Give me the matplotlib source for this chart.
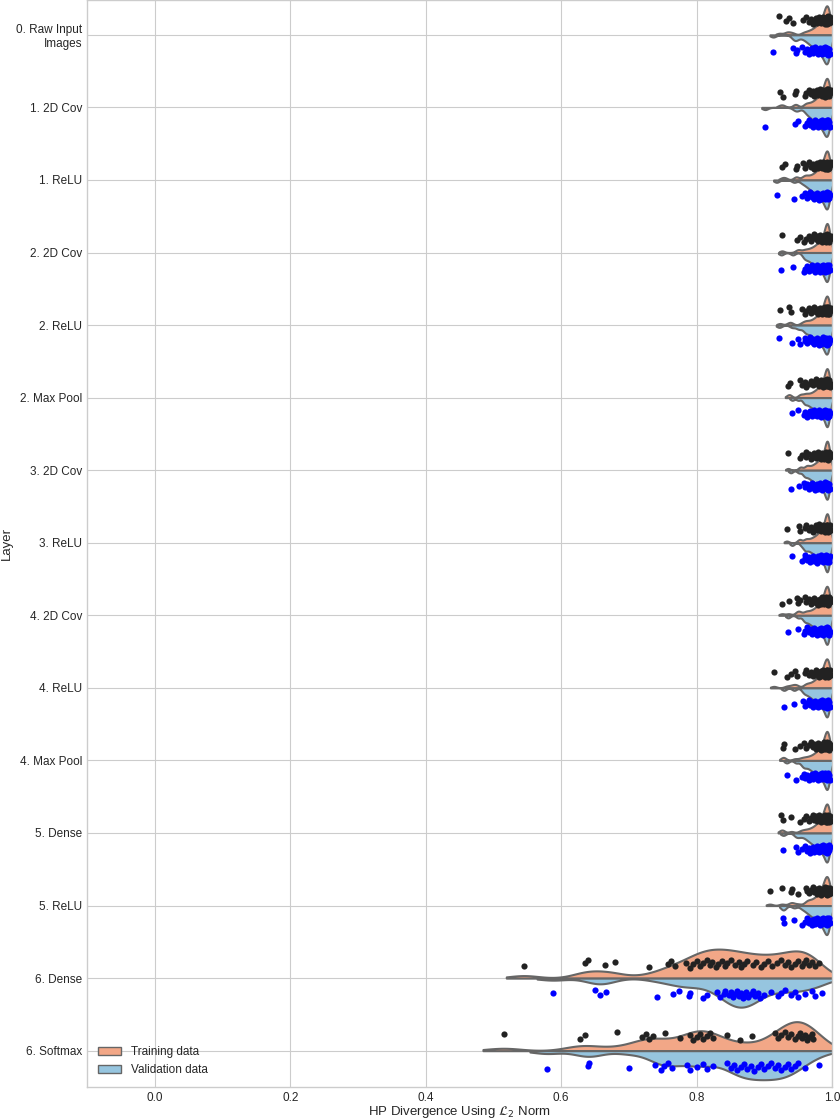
import numpy as np
import matplotlib

matplotlib.use("Agg")

import matplotlib.pyplot as plt
from matplotlib.patches import Patch

# layer names (top to bottom)
layers = [
    "0. Raw Input\nImages", "1. 2D Cov", "1. ReLU", "2. 2D Cov", "2. ReLU",
    "2. Max Pool", "3. 2D Cov", "3. ReLU", "4. 2D Cov", "4. ReLU",
    "4. Max Pool", "5. Dense", "5. ReLU", "6. Dense", "6. Softmax",
]

# dense cluster near 1.0 shared by the early layers (not readable point by point)
train_core = [0.962, 0.966, 0.969, 0.972, 0.974, 0.976, 0.978, 0.979, 0.981, 0.982,
              0.983, 0.984, 0.985, 0.986, 0.987, 0.988, 0.989, 0.990, 0.990, 0.991,
              0.991, 0.992, 0.992, 0.992, 0.993, 0.993, 0.993, 0.993, 0.994, 0.994,
              0.994, 0.995, 0.995, 0.996, 0.997, 0.998]
val_core = [0.960, 0.963, 0.966, 0.968, 0.970, 0.972, 0.974, 0.975, 0.977, 0.978,
            0.979, 0.980, 0.982, 0.983, 0.984, 0.985, 0.986, 0.987, 0.988, 0.989,
            0.990, 0.991, 0.992, 0.992, 0.993, 0.993, 0.993, 0.994, 0.994, 0.995,
            0.996, 0.997]

# outlying points of the early layers
train_tails = [
    [0.922, 0.932, 0.936, 0.942, 0.957],
    [0.923, 0.928, 0.945, 0.947, 0.960],
    [0.926, 0.931, 0.946, 0.948, 0.957, 0.960],
    [0.926, 0.948, 0.952, 0.958],
    [0.923, 0.936, 0.940, 0.955, 0.960],
    [0.935, 0.938, 0.952, 0.955, 0.960],
    [0.935, 0.952, 0.955, 0.962],
    [0.933, 0.951, 0.953, 0.960],
    [0.926, 0.936, 0.948, 0.950, 0.953, 0.960],
    [0.914, 0.933, 0.940, 0.945, 0.948, 0.960],
    [0.927, 0.929, 0.945, 0.953, 0.958],
    [0.925, 0.927, 0.940, 0.953, 0.958],
    [0.908, 0.926, 0.939, 0.941, 0.950, 0.963],
]
val_tails = [
    [0.913, 0.942, 0.946, 0.948, 0.955],
    [0.901, 0.945, 0.950],
    [0.918, 0.944, 0.955],
    [0.925, 0.942, 0.958],
    [0.922, 0.941, 0.949, 0.953, 0.960],
    [0.941, 0.950, 0.958],
    [0.939, 0.951, 0.958],
    [0.941, 0.955, 0.960],
    [0.935, 0.950, 0.958],
    [0.929, 0.944, 0.957],
    [0.933, 0.947, 0.955, 0.958],
    [0.928, 0.946, 0.950, 0.955],
    [0.927, 0.929, 0.944, 0.955],
]

dense6_train = [0.545, 0.635, 0.640, 0.665, 0.680, 0.730, 0.757, 0.762, 0.768, 0.785,
                0.790, 0.795, 0.800, 0.805, 0.810, 0.815, 0.820, 0.822, 0.828, 0.832,
                0.838, 0.842, 0.845, 0.850, 0.856, 0.862, 0.866, 0.870, 0.875, 0.883,
                0.888, 0.895, 0.900, 0.905, 0.912, 0.918, 0.925, 0.930, 0.935, 0.940,
                0.945, 0.950, 0.955, 0.958, 0.962, 0.966, 0.970, 0.975, 0.980]
dense6_val = [0.588, 0.650, 0.657, 0.666, 0.741, 0.765, 0.774, 0.788, 0.790, 0.809,
              0.815, 0.830, 0.835, 0.840, 0.842, 0.848, 0.850, 0.853, 0.856, 0.860,
              0.862, 0.865, 0.868, 0.870, 0.873, 0.876, 0.880, 0.883, 0.886, 0.890,
              0.893, 0.900, 0.910, 0.920, 0.925, 0.930, 0.940, 0.945, 0.950, 0.960,
              0.970, 0.975, 0.985]
softmax_train = [0.515, 0.628, 0.635, 0.682, 0.720, 0.725, 0.730, 0.735, 0.753, 0.775,
                 0.790, 0.795, 0.800, 0.805, 0.810, 0.815, 0.820, 0.824, 0.845, 0.864,
                 0.882, 0.916, 0.920, 0.925, 0.930, 0.935, 0.940, 0.945, 0.950, 0.953,
                 0.956, 0.960, 0.963, 0.966, 0.970, 0.972]
softmax_val = [0.579, 0.640, 0.641, 0.700, 0.738, 0.748, 0.752, 0.758, 0.763, 0.786,
               0.790, 0.800, 0.810, 0.815, 0.824, 0.845, 0.850, 0.855, 0.860, 0.865,
               0.870, 0.875, 0.880, 0.885, 0.890, 0.895, 0.900, 0.905, 0.910, 0.915,
               0.920, 0.925, 0.930, 0.935, 0.940, 0.945, 0.950, 0.960, 0.980]

train_data = [t + train_core for t in train_tails] + [dense6_train, softmax_train]
val_data = [t + val_core for t in val_tails] + [dense6_val, softmax_val]

TRAIN_COLOR = "#f2a787"
VAL_COLOR = "#96c5df"
EDGE = "#666666"
BW = 0.22
CUT = 1.2
HALF = 0.4


def kde(values):
    v = np.asarray(values)
    h = BW * v.std(ddof=1)
    grid = np.linspace(v.min() - CUT * h, v.max() + CUT * h, 400)
    d = np.exp(-0.5 * ((grid[:, None] - v[None, :]) / h) ** 2).sum(axis=1)
    return grid, d / d.max()


def jitter(n, seed):
    # deterministic spread of the strip points
    return ((np.arange(n) * 0.618034 + seed * 0.37) % 1.0 - 0.5) * 0.11


plt.style.use("seaborn-v0_8-whitegrid")
plt.rcParams["font.family"] = ["Liberation Sans", "DejaVu Sans"]

fig = plt.figure(figsize=(8.4, 11.2), dpi=100)
ax = fig.add_axes([0.1036, 0.0295, 0.887, 0.9705])

for i, (tr, va) in enumerate(zip(train_data, val_data)):
    g, d = kde(tr)
    ax.fill_between(g, i, i - d * HALF, facecolor=TRAIN_COLOR, edgecolor=EDGE,
                    linewidth=1.5, zorder=2)
    g, d = kde(va)
    ax.fill_between(g, i, i + d * HALF, facecolor=VAL_COLOR, edgecolor=EDGE,
                    linewidth=1.5, zorder=2)
    ax.scatter(tr, i - 0.2 + jitter(len(tr), i), s=20, color="#222222",
               linewidths=0, zorder=3)
    ax.scatter(va, i + 0.22 + jitter(len(va), i + 7), s=20, color="blue",
               linewidths=0, zorder=3)

ax.set_xlim(-0.1, 1.0)
ax.set_ylim(14.5, -0.48)
ax.set_yticks(range(len(layers)))
ax.set_yticklabels(layers, fontsize=8.5)
ax.set_xticks([0.0, 0.2, 0.4, 0.6, 0.8, 1.0])
ax.tick_params(axis="x", labelsize=8.5)
ax.set_xlabel(r"HP Divergence Using $\mathcal{L}_2$ Norm", fontsize=9.5, labelpad=0)
ax.set_ylabel("Layer", fontsize=9.5, labelpad=2)
ax.set_axisbelow(True)

handles = [Patch(facecolor=TRAIN_COLOR, edgecolor=EDGE, label="Training data"),
           Patch(facecolor=VAL_COLOR, edgecolor=EDGE, label="Validation data")]
ax.legend(handles=handles, loc="lower left", frameon=False, fontsize=8.5)

fig.savefig("out.png", dpi=100)
